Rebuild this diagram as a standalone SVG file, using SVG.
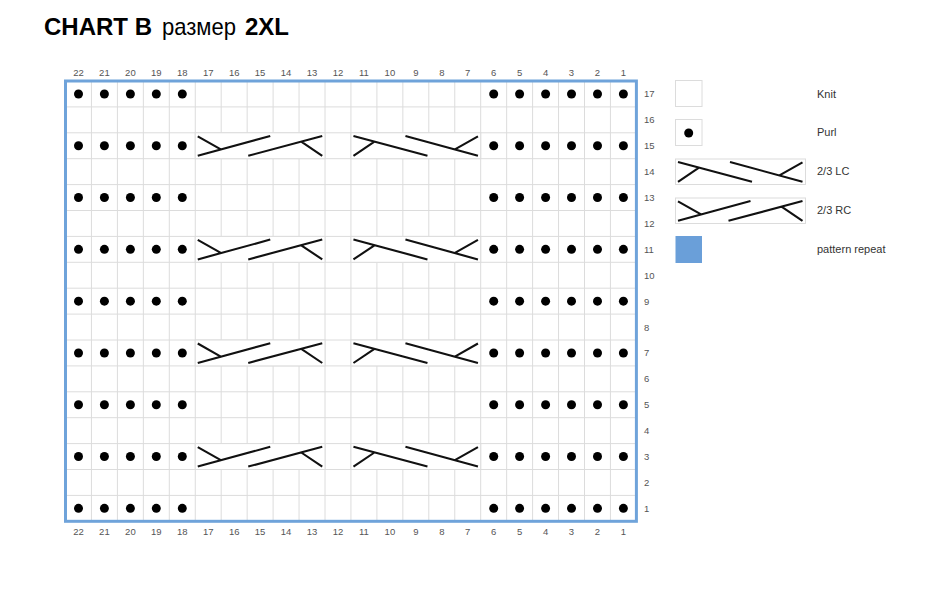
<svg xmlns="http://www.w3.org/2000/svg" xmlns:xlink="http://www.w3.org/1999/xlink" width="940" height="590" viewBox="0 0 940 590">
<style>
.lbl{font-family:"Liberation Sans",Arial,sans-serif;font-size:9.5px;fill:#555;text-anchor:middle}
.rl{font-family:"Liberation Sans",Arial,sans-serif;font-size:9.5px;fill:#555}
.leg{font-family:"Liberation Sans",Arial,sans-serif;font-size:11px;fill:#333}
.grid{stroke:#dcdcdc;stroke-width:1;fill:none}
.cell{fill:#fff;stroke:#dcdcdc;stroke-width:1}
.cab{stroke:#111;stroke-width:2.1;fill:none;stroke-linecap:butt}
.p{fill:#000}
</style>
<defs>
<path id="rc" class="cab" d="M2.5,3.5 L26,16.8 M2.5,23 L75,3.2 M53,23 L127,3.2 M106,8.9 L127,23"/>
<path id="lc" class="cab" d="M127,3.5 L103.5,16.8 M127,23 L54.5,3.2 M76.5,23 L2.5,3.2 M23.5,8.9 L2.5,23"/>
</defs>
<rect width="940" height="590" fill="#fff"/>
<g id="title">
<text x="44" y="35" font-family="'Liberation Sans',Arial,sans-serif" font-size="24" fill="#000"><tspan font-weight="bold">CHART B</tspan><tspan x="162" font-weight="normal" textLength="74" lengthAdjust="spacingAndGlyphs">размер</tspan><tspan x="245" font-weight="bold">2XL</tspan></text>
</g>
<g id="grid">
<path class="grid" d="M91.45,81V521.3M117.4,81V521.3M143.35,81V521.3M169.3,81V521.3M195.25,81V521.3M221.2,81V521.3M247.15,81V521.3M273.1,81V521.3M299.05,81V521.3M325,81V521.3M350.95,81V521.3M376.9,81V521.3M402.85,81V521.3M428.8,81V521.3M454.75,81V521.3M480.7,81V521.3M506.65,81V521.3M532.6,81V521.3M558.55,81V521.3M584.5,81V521.3M610.45,81V521.3M65.5,106.9H636.4M65.5,132.8H636.4M65.5,158.7H636.4M65.5,184.6H636.4M65.5,210.5H636.4M65.5,236.4H636.4M65.5,262.3H636.4M65.5,288.2H636.4M65.5,314.1H636.4M65.5,340H636.4M65.5,365.9H636.4M65.5,391.8H636.4M65.5,417.7H636.4M65.5,443.6H636.4M65.5,469.5H636.4M65.5,495.4H636.4"/>
</g>
<g id="cables">
<rect class="cell" x="195.25" y="132.8" width="129.75" height="25.9"/>
<rect class="cell" x="350.95" y="132.8" width="129.75" height="25.9"/>
<rect class="cell" x="195.25" y="236.4" width="129.75" height="25.9"/>
<rect class="cell" x="350.95" y="236.4" width="129.75" height="25.9"/>
<rect class="cell" x="195.25" y="340" width="129.75" height="25.9"/>
<rect class="cell" x="350.95" y="340" width="129.75" height="25.9"/>
<rect class="cell" x="195.25" y="443.6" width="129.75" height="25.9"/>
<rect class="cell" x="350.95" y="443.6" width="129.75" height="25.9"/>
<use xlink:href="#rc" href="#rc" x="195.25" y="132.8"/>
<use xlink:href="#lc" href="#lc" x="350.95" y="132.8"/>
<use xlink:href="#rc" href="#rc" x="195.25" y="236.4"/>
<use xlink:href="#lc" href="#lc" x="350.95" y="236.4"/>
<use xlink:href="#rc" href="#rc" x="195.25" y="340"/>
<use xlink:href="#lc" href="#lc" x="350.95" y="340"/>
<use xlink:href="#rc" href="#rc" x="195.25" y="443.6"/>
<use xlink:href="#lc" href="#lc" x="350.95" y="443.6"/>
</g>
<g id="purls">
<g id="purl-row17">
<circle class="p" cx="78.5" cy="93.95" r="4.5"/><circle class="p" cx="104.4" cy="93.95" r="4.5"/><circle class="p" cx="130.4" cy="93.95" r="4.5"/><circle class="p" cx="156.3" cy="93.95" r="4.5"/><circle class="p" cx="182.3" cy="93.95" r="4.5"/>
<circle class="p" cx="493.7" cy="93.95" r="4.5"/><circle class="p" cx="519.6" cy="93.95" r="4.5"/><circle class="p" cx="545.6" cy="93.95" r="4.5"/><circle class="p" cx="571.5" cy="93.95" r="4.5"/><circle class="p" cx="597.5" cy="93.95" r="4.5"/><circle class="p" cx="623.4" cy="93.95" r="4.5"/>
</g>
<g id="purl-row15">
<circle class="p" cx="78.5" cy="145.75" r="4.5"/><circle class="p" cx="104.4" cy="145.75" r="4.5"/><circle class="p" cx="130.4" cy="145.75" r="4.5"/><circle class="p" cx="156.3" cy="145.75" r="4.5"/><circle class="p" cx="182.3" cy="145.75" r="4.5"/>
<circle class="p" cx="493.7" cy="145.75" r="4.5"/><circle class="p" cx="519.6" cy="145.75" r="4.5"/><circle class="p" cx="545.6" cy="145.75" r="4.5"/><circle class="p" cx="571.5" cy="145.75" r="4.5"/><circle class="p" cx="597.5" cy="145.75" r="4.5"/><circle class="p" cx="623.4" cy="145.75" r="4.5"/>
</g>
<g id="purl-row13">
<circle class="p" cx="78.5" cy="197.55" r="4.5"/><circle class="p" cx="104.4" cy="197.55" r="4.5"/><circle class="p" cx="130.4" cy="197.55" r="4.5"/><circle class="p" cx="156.3" cy="197.55" r="4.5"/><circle class="p" cx="182.3" cy="197.55" r="4.5"/>
<circle class="p" cx="493.7" cy="197.55" r="4.5"/><circle class="p" cx="519.6" cy="197.55" r="4.5"/><circle class="p" cx="545.6" cy="197.55" r="4.5"/><circle class="p" cx="571.5" cy="197.55" r="4.5"/><circle class="p" cx="597.5" cy="197.55" r="4.5"/><circle class="p" cx="623.4" cy="197.55" r="4.5"/>
</g>
<g id="purl-row11">
<circle class="p" cx="78.5" cy="249.35" r="4.5"/><circle class="p" cx="104.4" cy="249.35" r="4.5"/><circle class="p" cx="130.4" cy="249.35" r="4.5"/><circle class="p" cx="156.3" cy="249.35" r="4.5"/><circle class="p" cx="182.3" cy="249.35" r="4.5"/>
<circle class="p" cx="493.7" cy="249.35" r="4.5"/><circle class="p" cx="519.6" cy="249.35" r="4.5"/><circle class="p" cx="545.6" cy="249.35" r="4.5"/><circle class="p" cx="571.5" cy="249.35" r="4.5"/><circle class="p" cx="597.5" cy="249.35" r="4.5"/><circle class="p" cx="623.4" cy="249.35" r="4.5"/>
</g>
<g id="purl-row9">
<circle class="p" cx="78.5" cy="301.15" r="4.5"/><circle class="p" cx="104.4" cy="301.15" r="4.5"/><circle class="p" cx="130.4" cy="301.15" r="4.5"/><circle class="p" cx="156.3" cy="301.15" r="4.5"/><circle class="p" cx="182.3" cy="301.15" r="4.5"/>
<circle class="p" cx="493.7" cy="301.15" r="4.5"/><circle class="p" cx="519.6" cy="301.15" r="4.5"/><circle class="p" cx="545.6" cy="301.15" r="4.5"/><circle class="p" cx="571.5" cy="301.15" r="4.5"/><circle class="p" cx="597.5" cy="301.15" r="4.5"/><circle class="p" cx="623.4" cy="301.15" r="4.5"/>
</g>
<g id="purl-row7">
<circle class="p" cx="78.5" cy="352.95" r="4.5"/><circle class="p" cx="104.4" cy="352.95" r="4.5"/><circle class="p" cx="130.4" cy="352.95" r="4.5"/><circle class="p" cx="156.3" cy="352.95" r="4.5"/><circle class="p" cx="182.3" cy="352.95" r="4.5"/>
<circle class="p" cx="493.7" cy="352.95" r="4.5"/><circle class="p" cx="519.6" cy="352.95" r="4.5"/><circle class="p" cx="545.6" cy="352.95" r="4.5"/><circle class="p" cx="571.5" cy="352.95" r="4.5"/><circle class="p" cx="597.5" cy="352.95" r="4.5"/><circle class="p" cx="623.4" cy="352.95" r="4.5"/>
</g>
<g id="purl-row5">
<circle class="p" cx="78.5" cy="404.75" r="4.5"/><circle class="p" cx="104.4" cy="404.75" r="4.5"/><circle class="p" cx="130.4" cy="404.75" r="4.5"/><circle class="p" cx="156.3" cy="404.75" r="4.5"/><circle class="p" cx="182.3" cy="404.75" r="4.5"/>
<circle class="p" cx="493.7" cy="404.75" r="4.5"/><circle class="p" cx="519.6" cy="404.75" r="4.5"/><circle class="p" cx="545.6" cy="404.75" r="4.5"/><circle class="p" cx="571.5" cy="404.75" r="4.5"/><circle class="p" cx="597.5" cy="404.75" r="4.5"/><circle class="p" cx="623.4" cy="404.75" r="4.5"/>
</g>
<g id="purl-row3">
<circle class="p" cx="78.5" cy="456.55" r="4.5"/><circle class="p" cx="104.4" cy="456.55" r="4.5"/><circle class="p" cx="130.4" cy="456.55" r="4.5"/><circle class="p" cx="156.3" cy="456.55" r="4.5"/><circle class="p" cx="182.3" cy="456.55" r="4.5"/>
<circle class="p" cx="493.7" cy="456.55" r="4.5"/><circle class="p" cx="519.6" cy="456.55" r="4.5"/><circle class="p" cx="545.6" cy="456.55" r="4.5"/><circle class="p" cx="571.5" cy="456.55" r="4.5"/><circle class="p" cx="597.5" cy="456.55" r="4.5"/><circle class="p" cx="623.4" cy="456.55" r="4.5"/>
</g>
<g id="purl-row1">
<circle class="p" cx="78.5" cy="508.35" r="4.5"/><circle class="p" cx="104.4" cy="508.35" r="4.5"/><circle class="p" cx="130.4" cy="508.35" r="4.5"/><circle class="p" cx="156.3" cy="508.35" r="4.5"/><circle class="p" cx="182.3" cy="508.35" r="4.5"/>
<circle class="p" cx="493.7" cy="508.35" r="4.5"/><circle class="p" cx="519.6" cy="508.35" r="4.5"/><circle class="p" cx="545.6" cy="508.35" r="4.5"/><circle class="p" cx="571.5" cy="508.35" r="4.5"/><circle class="p" cx="597.5" cy="508.35" r="4.5"/><circle class="p" cx="623.4" cy="508.35" r="4.5"/>
</g>
</g>
<g id="border">
<rect x="65.5" y="81" width="570.9" height="440.3" fill="none" stroke="#6fa3da" stroke-width="3"/>
</g>
<g id="col-labels-top">
<text class="lbl" x="78.5" y="76">22</text><text class="lbl" x="104.4" y="76">21</text><text class="lbl" x="130.4" y="76">20</text><text class="lbl" x="156.3" y="76">19</text><text class="lbl" x="182.3" y="76">18</text><text class="lbl" x="208.2" y="76">17</text><text class="lbl" x="234.2" y="76">16</text><text class="lbl" x="260.1" y="76">15</text><text class="lbl" x="286.1" y="76">14</text><text class="lbl" x="312" y="76">13</text><text class="lbl" x="338" y="76">12</text><text class="lbl" x="363.9" y="76">11</text><text class="lbl" x="389.9" y="76">10</text><text class="lbl" x="415.8" y="76">9</text><text class="lbl" x="441.8" y="76">8</text><text class="lbl" x="467.7" y="76">7</text><text class="lbl" x="493.7" y="76">6</text><text class="lbl" x="519.6" y="76">5</text><text class="lbl" x="545.6" y="76">4</text><text class="lbl" x="571.5" y="76">3</text><text class="lbl" x="597.5" y="76">2</text><text class="lbl" x="623.4" y="76">1</text>
</g>
<g id="col-labels-bottom">
<text class="lbl" x="78.5" y="535">22</text><text class="lbl" x="104.4" y="535">21</text><text class="lbl" x="130.4" y="535">20</text><text class="lbl" x="156.3" y="535">19</text><text class="lbl" x="182.3" y="535">18</text><text class="lbl" x="208.2" y="535">17</text><text class="lbl" x="234.2" y="535">16</text><text class="lbl" x="260.1" y="535">15</text><text class="lbl" x="286.1" y="535">14</text><text class="lbl" x="312" y="535">13</text><text class="lbl" x="338" y="535">12</text><text class="lbl" x="363.9" y="535">11</text><text class="lbl" x="389.9" y="535">10</text><text class="lbl" x="415.8" y="535">9</text><text class="lbl" x="441.8" y="535">8</text><text class="lbl" x="467.7" y="535">7</text><text class="lbl" x="493.7" y="535">6</text><text class="lbl" x="519.6" y="535">5</text><text class="lbl" x="545.6" y="535">4</text><text class="lbl" x="571.5" y="535">3</text><text class="lbl" x="597.5" y="535">2</text><text class="lbl" x="623.4" y="535">1</text>
</g>
<g id="row-labels">
<text class="rl" x="644" y="97.4">17</text><text class="rl" x="644" y="123.3">16</text><text class="rl" x="644" y="149.2">15</text><text class="rl" x="644" y="175.1">14</text><text class="rl" x="644" y="201">13</text><text class="rl" x="644" y="226.9">12</text><text class="rl" x="644" y="252.8">11</text><text class="rl" x="644" y="278.7">10</text><text class="rl" x="644" y="304.6">9</text><text class="rl" x="644" y="330.5">8</text><text class="rl" x="644" y="356.4">7</text><text class="rl" x="644" y="382.3">6</text><text class="rl" x="644" y="408.2">5</text><text class="rl" x="644" y="434.1">4</text><text class="rl" x="644" y="460">3</text><text class="rl" x="644" y="485.9">2</text><text class="rl" x="644" y="511.8">1</text>
</g>
<g id="legend-knit">
<rect class="cell" x="675.5" y="80.5" width="26.5" height="26"/>
<text class="leg" x="817" y="98">Knit</text>
</g>
<g id="legend-purl">
<rect class="cell" x="675.5" y="119.5" width="26.5" height="26"/>
<circle class="p" cx="688.7" cy="133" r="4.5"/>
<text class="leg" x="817" y="136">Purl</text>
</g>
<g id="legend-lc">
<rect class="cell" x="675.5" y="159" width="130" height="25.5"/>
<use xlink:href="#lc" href="#lc" x="675.5" y="158.8"/>
<text class="leg" x="817" y="175">2/3 LC</text>
</g>
<g id="legend-rc">
<rect class="cell" x="675.5" y="198" width="130" height="25.5"/>
<use xlink:href="#rc" href="#rc" x="675.5" y="197.8"/>
<text class="leg" x="817" y="214">2/3 RC</text>
</g>
<g id="legend-repeat">
<rect x="675.5" y="236" width="26.5" height="27" fill="#6a9fd9"/>
<text class="leg" x="817" y="253">pattern repeat</text>
</g>
</svg>
